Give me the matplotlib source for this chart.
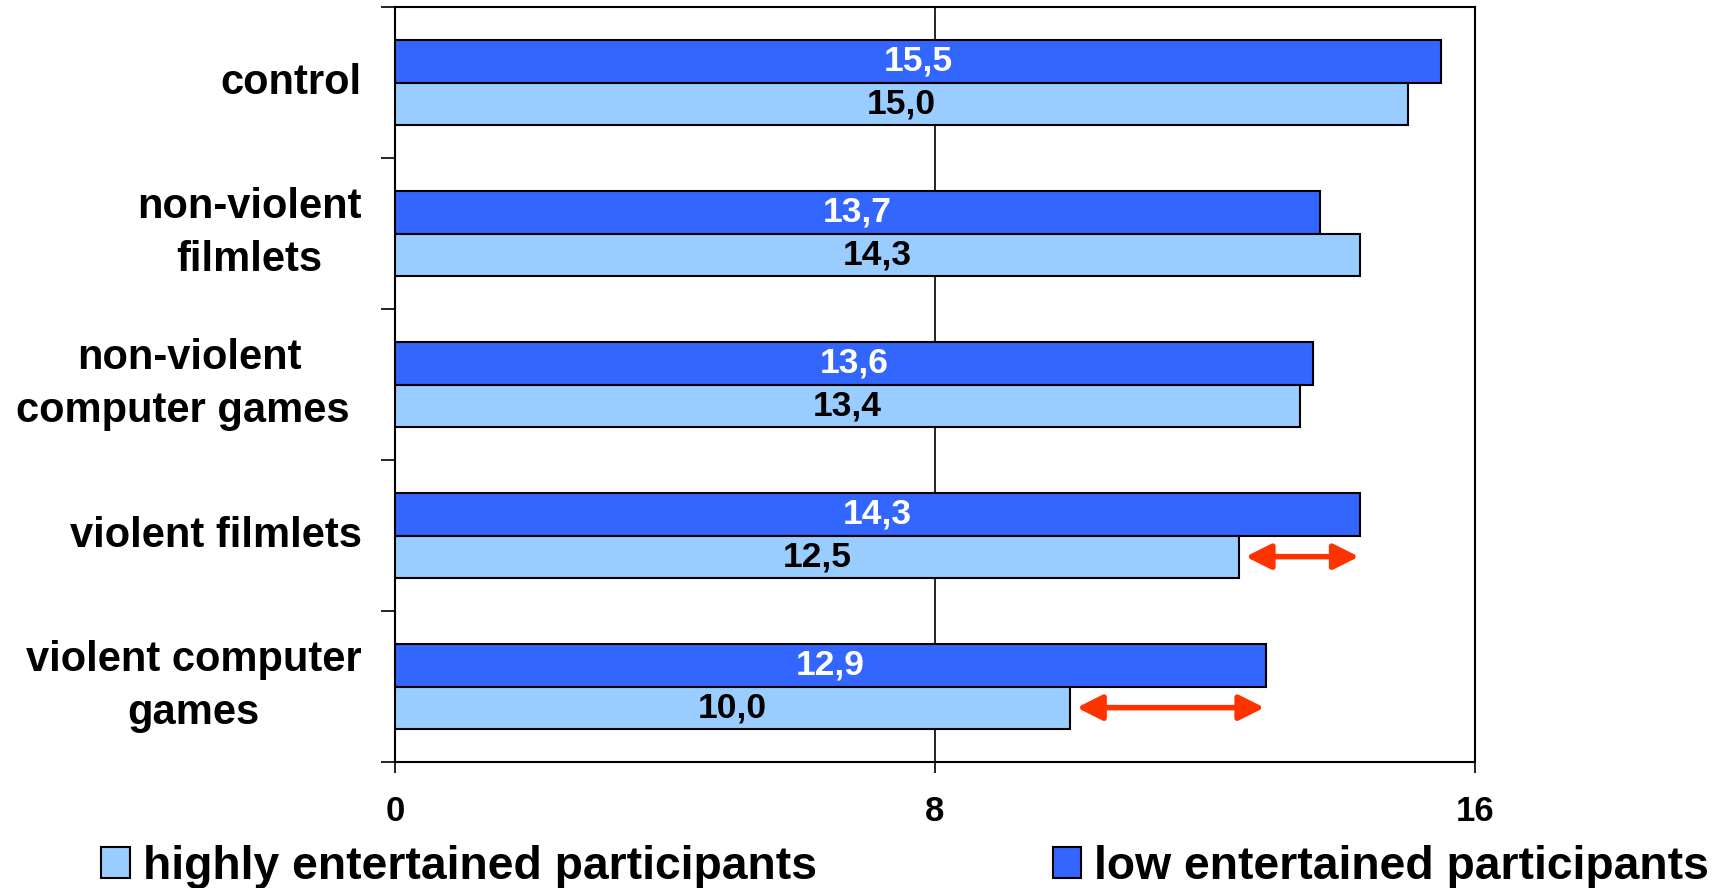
import matplotlib
matplotlib.use("Agg")
import matplotlib.pyplot as plt
import numpy as np

categories = ["control", "non-violent\nfilmlets", "non-violent\ncomputer games ",
              "violent filmlets", "violent computer\ngames"]
low_entertained = [15.5, 13.7, 13.6, 14.3, 12.9]
high_entertained = [15.0, 14.3, 13.4, 12.5, 10.0]
series_names = ["highly entertained participants", "low entertained participants"]
x_ticks = [0, 8, 16]
arrow_categories = [3, 4]

plt.rcParams['font.family'] = ['Liberation Sans', 'DejaVu Sans']
plt.rcParams['font.weight'] = 'bold'

fig = plt.figure(figsize=(17.24, 8.88), dpi=100)
ax = fig.add_axes([0.2291, 0.1419, 0.8556 - 0.2291, 0.992 - 0.1419])

y = np.arange(len(categories))
h = 0.28
light_c = "#99CCFF"
dark_c = "#3366FF"

b_low = ax.barh(y - h / 2, low_entertained, height=h, color=dark_c, edgecolor="black",
                linewidth=1.5, label=series_names[1], zorder=3)
b_high = ax.barh(y + h / 2, high_entertained, height=h, color=light_c, edgecolor="black",
                 linewidth=1.5, label=series_names[0], zorder=3)

for i in range(len(categories)):
    ax.text(low_entertained[i] / 2, y[i] - h / 2, f"{low_entertained[i]:.1f}".replace(".", ","),
            ha="center", va="center", color="white", fontsize=25.5, fontweight="bold", zorder=4)
    ax.text(high_entertained[i] / 2, y[i] + h / 2, f"{high_entertained[i]:.1f}".replace(".", ","),
            ha="center", va="center", color="black", fontsize=25.5, fontweight="bold", zorder=4)

for i in arrow_categories:
    ax.annotate("", xy=(low_entertained[i] - 0.02, y[i] + h / 2),
                xytext=(high_entertained[i] + 0.1, y[i] + h / 2),
                arrowprops=dict(arrowstyle="<|-|>", color="#FF3300", lw=4,
                                mutation_scale=38, shrinkA=0, shrinkB=0), zorder=5)

ax.set_xlim(0, 16)
ax.set_ylim(len(categories) - 0.5, -0.5)
ax.set_xticks(x_ticks)
ax.set_xticklabels([str(t) for t in x_ticks], fontsize=25, fontweight="bold")
ax.tick_params(axis="x", length=8, width=1.2, pad=16, direction="out")
ax.set_yticks(y)
ax.set_yticklabels(categories, fontsize=30, fontweight="bold", multialignment="center",
                   linespacing=1.42, va="center")
ax.tick_params(axis="y", which="major", length=0, pad=24)
ax.set_yticks(np.arange(len(categories) + 1) - 0.5, minor=True)
ax.tick_params(axis="y", which="minor", length=10, width=1.2, direction="out")
ax.xaxis.grid(True, color="black", linewidth=1.2, zorder=0)
for s in ax.spines.values():
    s.set_linewidth(1.5)
    s.set_color("black")

fig.legend(handles=[b_high, b_low], labels=series_names, loc="center left",
           bbox_to_anchor=(0.0586, 0.024), ncol=2, frameon=False,
           prop=dict(size=33.3, weight="bold"), handlelength=0.62, handleheight=0.65,
           handletextpad=0.28, columnspacing=5.1, borderpad=0, borderaxespad=0)

fig.savefig("out.png", dpi=100)
